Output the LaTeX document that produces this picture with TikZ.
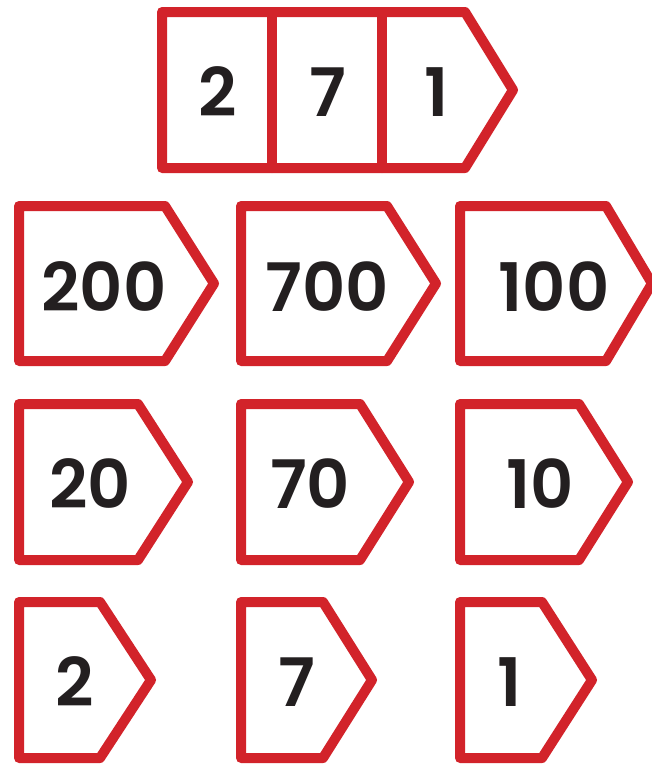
\documentclass[tikz,border=0pt]{standalone}
\usepackage{fontspec}
\setmainfont{Poppins SemiBold}
\definecolor{tagred}{HTML}{D2232A}
\definecolor{ink}{HTML}{231F20}
\tikzset{
  tagline/.style={draw=tagred,line width=10pt,line join=round,line cap=round},
  num/.style={font=\fontsize{67}{67}\selectfont,text=ink,inner sep=0pt,anchor=center}
}
\newcommand\tagshape[5]{\draw[tagline] (#1,#2) -- (#4,#2) -- (#5,{(#2+#3)/2}) -- (#4,#3) -- (#1,#3) -- cycle;}
\begin{document}
\begin{tikzpicture}[x=1pt,y=-1pt]
\useasboundingbox (0,0) rectangle (652,764);
\fill[white] (0,0) rectangle (652,764);
% top strip
\tagshape{162}{12}{168}{465}{513}
\draw[tagline] (272,12) -- (272,168);
\draw[tagline] (382,12) -- (382,168);
\node[num] (t2) at (218,92) {2};
\node[num] (t7) at (328,92) {7};
\node[num] (t1) at (437,92) {1};
% row 2
\tagshape{19}{206}{361}{165}{214}
\tagshape{241}{206}{361}{387}{436}
\tagshape{460}{206}{361}{606}{652}
\node[num] (h2) at (104,287) {200};
\node[num] (h7) at (327,287) {700};
\node[num] (h1) at (554,287) {100};
% row 3
\tagshape{19}{404}{560}{138}{188}
\tagshape{241}{404}{560}{360}{409}
\tagshape{460}{404}{560}{579}{628}
\node[num] (e2) at (90,484) {20};
\node[num] (e7) at (310,484) {70};
\node[num] (e1) at (540,484) {10};
% row 4
\tagshape{19}{602}{758}{100}{151}
\tagshape{241}{602}{758}{323}{372}
\tagshape{460}{602}{758}{542}{592}
\node[num] (o2) at (75,682) {2};
\node[num] (o7) at (297,682) {7};
\node[num] (o1) at (510,682) {1};
\end{tikzpicture}
\end{document}
